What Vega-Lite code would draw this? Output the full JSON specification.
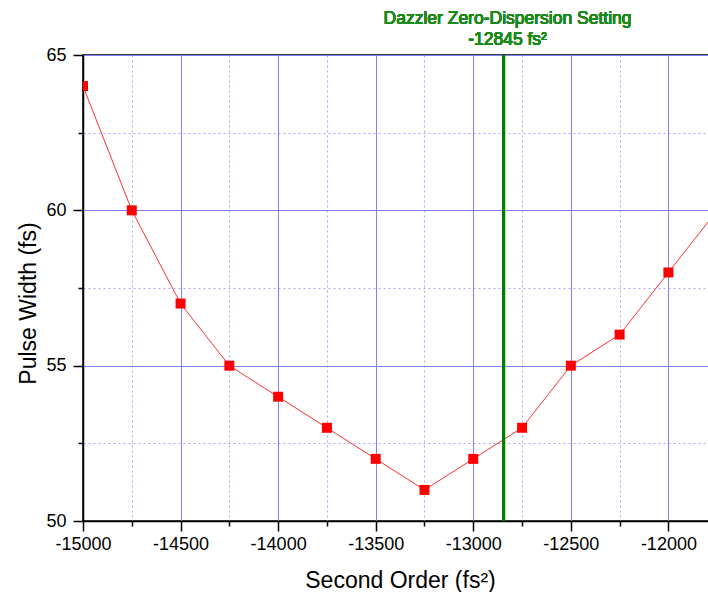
{
  "$schema": "https://vega.github.io/schema/vega-lite/v6.json",
  "width": 626,
  "height": 466,
  "autosize": {"type": "none"},
  "padding": {"left": 83, "top": 55, "right": 0, "bottom": 71},
  "background": "white",
  "config": {
    "view": {"stroke": "black", "strokeWidth": 1.5},
    "font": "Liberation Sans"
  },
  "data": {
    "values": [
      {"gdd": -15000, "width": 64},
      {"gdd": -14750, "width": 60},
      {"gdd": -14500, "width": 57},
      {"gdd": -14250, "width": 55},
      {"gdd": -14000, "width": 54},
      {"gdd": -13750, "width": 53},
      {"gdd": -13500, "width": 52},
      {"gdd": -13250, "width": 51},
      {"gdd": -13000, "width": 52},
      {"gdd": -12750, "width": 53},
      {"gdd": -12500, "width": 55},
      {"gdd": -12250, "width": 56},
      {"gdd": -12000, "width": 58},
      {"gdd": -11750, "width": 60}
    ]
  },
  "layer": [
    {
      "mark": {"type": "line", "color": "#ff3030", "strokeWidth": 1, "clip": true},
      "encoding": {
        "x": {
          "field": "gdd", "type": "quantitative",
          "scale": {"domain": [-15000, -11792], "nice": false, "zero": false},
          "axis": {
            "title": "Second Order (fs²)",
            "titleFont": "Liberation Sans", "titleFontSize": 23, "titleFontWeight": "normal", "titleColor": "black", "titlePadding": 16, "titleX": 317,
            "values": [-15000, -14750, -14500, -14250, -14000, -13750, -13500, -13250, -13000, -12750, -12500, -12250, -12000],
            "labelExpr": "datum.value % 500 === 0 ? '' + datum.value : ''",
            "labelFont": "Liberation Sans", "labelFontSize": 18, "labelColor": "black", "labelPadding": 4, "labelFlush": false, "labelOverlap": false,
            "domainColor": "black", "domainWidth": 1.5,
            "tickColor": "black", "tickWidth": 1.5,
            "tickSize": {"condition": {"test": "datum.value % 500 !== 0", "value": 5}, "value": 10},
            "grid": true,
            "gridColor": {"condition": {"test": "datum.value % 500 !== 0", "value": "#a8a8ff"}, "value": "#8080ff"},
            "gridDash": {"condition": {"test": "datum.value % 500 !== 0", "value": [2, 3]}, "value": []},
            "gridWidth": 1, "gridOpacity": 1
          }
        },
        "y": {
          "field": "width", "type": "quantitative",
          "scale": {"domain": [50, 65], "nice": false, "zero": false},
          "axis": {
            "title": "Pulse Width (fs)",
            "titleFont": "Liberation Sans", "titleFontSize": 23, "titleFontWeight": "normal", "titleColor": "black", "titlePadding": 5, "titleY": 248,
            "values": [50, 52.5, 55, 57.5, 60, 62.5, 65],
            "labelExpr": "datum.value % 5 === 0 ? '' + datum.value : ''",
            "labelFont": "Liberation Sans", "labelFontSize": 18, "labelColor": "black", "labelPadding": 7, "labelFlush": false, "labelOverlap": false,
            "domainColor": "black", "domainWidth": 1.5,
            "tickColor": "black", "tickWidth": 1.5,
            "tickSize": {"condition": {"test": "datum.value % 5 !== 0", "value": 5}, "value": 10},
            "grid": true,
            "gridColor": {"condition": {"test": "datum.value % 5 !== 0", "value": "#a8a8ff"}, "value": "#8080ff"},
            "gridDash": {"condition": {"test": "datum.value % 5 !== 0", "value": [2, 3]}, "value": []},
            "gridWidth": 1, "gridOpacity": 1
          }
        }
      }
    },
    {
      "mark": {"type": "point", "shape": "square", "filled": true, "color": "#ff0000", "size": 100, "opacity": 1, "clip": true},
      "encoding": {
        "x": {"field": "gdd", "type": "quantitative"},
        "y": {"field": "width", "type": "quantitative"}
      }
    },
    {
      "mark": {"type": "rule", "color": "#008000", "strokeWidth": 3},
      "encoding": {
        "x": {"datum": -12845, "type": "quantitative"}
      }
    },
    {
      "mark": {"type": "text", "fill": "#1a8a1a", "font": "Liberation Sans", "fontSize": 17.5, "fontWeight": "normal", "align": "center", "baseline": "alphabetic", "lineBreak": "\n", "lineHeight": 21, "dx": 4, "clip": false},
      "encoding": {
        "x": {"datum": -12845, "type": "quantitative"},
        "y": {"datum": 66.0, "type": "quantitative"},
        "text": {"value": "Dazzler Zero-Dispersion Setting\n-12845 fs²"}
      }
    }
  ]
}
